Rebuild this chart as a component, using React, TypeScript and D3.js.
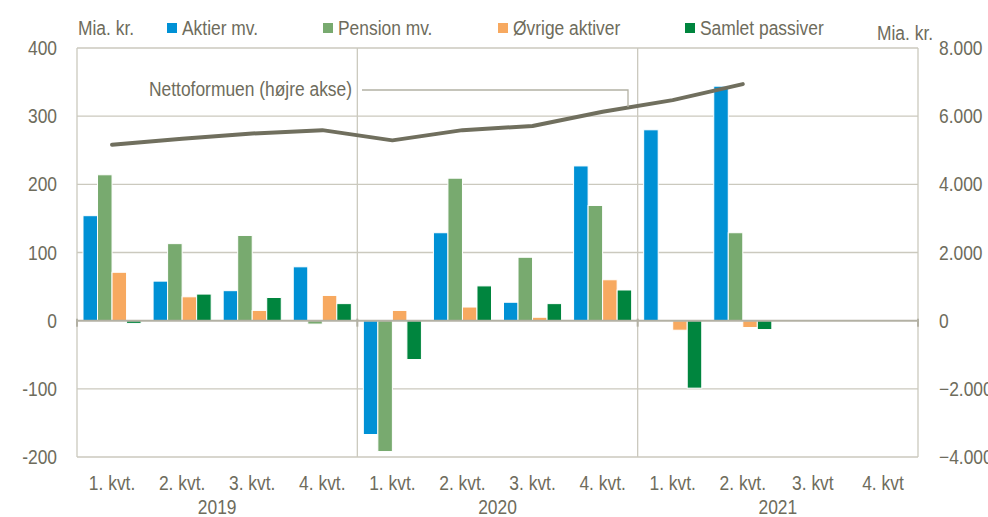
import React from 'react';
import * as d3 from 'd3';

// kvartaler og år
const quarters = ['1. kvt.', '2. kvt.', '3. kvt.', '4. kvt.', '1. kvt.', '2. kvt.', '3. kvt.', '4. kvt.', '1. kvt.', '2. kvt.', '3. kvt', '4. kvt'];
const years = ['2019', '2020', '2021'];

// serier (mia. kr.), null = ingen søjle
const aktier = [154, 58, 44, 79, -167, 129, 27, 227, 280, 344, null, null];
const pension = [214, 113, 125, -5, -192, 209, 93, 169, null, 129, null, null];
const oevrige = [71, 35, 15, 37, 15, 20, 5, 60, -14, -10, null, null];
const passiver = [-4, 39, 34, 25, -57, 51, 25, 45, -99, -13, null, null];

// nettoformue, højre akse
const netto = [5160, 5340, 5490, 5590, 5290, 5590, 5710, 6130, 6470, 6940, null, null];

const leftTicks = [400, 300, 200, 100, 0, -100, -200];
const rightTicks = [8000, 6000, 4000, 2000, 0, -2000, -4000];

const seriesNames = ['Aktier mv.', 'Pension mv.', 'Øvrige aktiver', 'Samlet passiver'];
const colors = ['#0091d5', '#78aa6f', '#f7a960', '#00853e'];
const seriesData = [aktier, pension, oevrige, passiver];

const W = 988;
const H = 517;
const left = 77;
const right = 918;
const top = 48;
const bottom = 457;

const textColor = '#6e6c5c';
const gridColor = '#cbc9be';
const font = '"Liberation Sans", Arial, sans-serif';
const squeeze = 0.87; // smal skrift

const fmt = (v: number) => d3.format(',')(v).replace(/,/g, '.');

// tekst med smal bredde
const T = ({ x, y, anchor = 'start', dy, children }: any) => (
  <text transform={`translate(${x},${y}) scale(${squeeze},1)`} dy={dy} textAnchor={anchor} fontSize={20} fill={textColor}>
    {children}
  </text>
);

export default function App() {
  const idx = quarters.map((_, i) => i);
  const x0 = d3.scaleBand<number>().domain(idx).range([left, right]).padding(0);
  const x1 = d3.scaleBand<number>().domain([0, 1, 2, 3]).range([6, x0.bandwidth() - 6]).padding(0);
  const y = d3.scaleLinear().domain([-200, 400]).range([bottom, top]);
  const y2 = d3.scaleLinear().domain([-4000, 8000]).range([bottom, top]);

  const line = d3.line<number | null>()
    .defined(d => d != null)
    .x((_, i) => x0(i)! + x0.bandwidth() / 2)
    .y(d => y2(d as number));

  const yearEdges = [0, 4, 8].map(i => x0(i)!);

  return (
    <svg width={W} height={H} style={{ position: 'absolute', left: 0, top: 0, background: '#fff' }} fontFamily={font}>
      {/* gitterlinjer */}
      {leftTicks.filter(t => t !== 0).map(t => (
        <line key={t} x1={left} x2={right} y1={y(t)} y2={y(t)} stroke={gridColor} strokeWidth={1.3} />
      ))}
      {[...yearEdges, right].map((xv, i) => (
        <line key={i} x1={xv} x2={xv} y1={top} y2={bottom} stroke={gridColor} strokeWidth={1.3} />
      ))}

      {/* søjler */}
      {seriesData.map((s, si) => s.map((v, i) => v == null ? null : (
        <rect key={`${si}-${i}`}
          x={x0(i)! + x1(si)!}
          width={x1.bandwidth()}
          y={y(Math.max(0, v))}
          height={Math.abs(y(v) - y(0))}
          fill={colors[si]}
          stroke="#fff"
          strokeWidth={1}
        />
      )))}

      {/* nul-linje */}
      <line x1={left} x2={right} y1={y(0)} y2={y(0)} stroke="#b3b1a4" strokeWidth={2} />
      {[...yearEdges, right].map((xv, i) => (
        <line key={i} x1={xv} x2={xv} y1={y(0) - 2} y2={y(0) + 6} stroke="#b3b1a4" strokeWidth={2} />
      ))}

      {/* nettoformue */}
      <path d={line(netto) ?? ''} fill="none" stroke="#706f5e" strokeWidth={4} strokeLinejoin="round" strokeLinecap="round" />

      {/* annotation */}
      <polyline points={`362,90 628,90 628,107`} fill="none" stroke="#b3b1a4" strokeWidth={1.3} />
      <T x={352} y={96} anchor="end">Nettoformuen (højre akse)</T>

      {/* venstre akse */}
      {leftTicks.map(t => (
        <T key={t} x={57} y={y(t)} dy="0.35em" anchor="end">{t}</T>
      ))}
      {/* højre akse */}
      {rightTicks.map(t => (
        <T key={t} x={939} y={y2(t)} dy="0.35em">{fmt(t)}</T>
      ))}

      {/* x-akse */}
      {quarters.map((q, i) => (
        <T key={i} x={x0(i)! + x0.bandwidth() / 2} y={490} anchor="middle">{q}</T>
      ))}
      {years.map((yr, i) => (
        <T key={yr} x={x0(i * 4)! + x0.bandwidth() * 2} y={514} anchor="middle">{yr}</T>
      ))}

      {/* enheder */}
      <T x={78} y={35}>Mia. kr.</T>
      <T x={877} y={40}>Mia. kr.</T>

      {/* legende */}
      {seriesNames.map((n, i) => {
        const lx = [167, 323, 498, 685][i];
        return (
          <g key={n}>
            <rect x={lx} y={23} width={10} height={10} fill={colors[i]} />
            <T x={lx + 15} y={35}>{n}</T>
          </g>
        );
      })}
    </svg>
  );
}
